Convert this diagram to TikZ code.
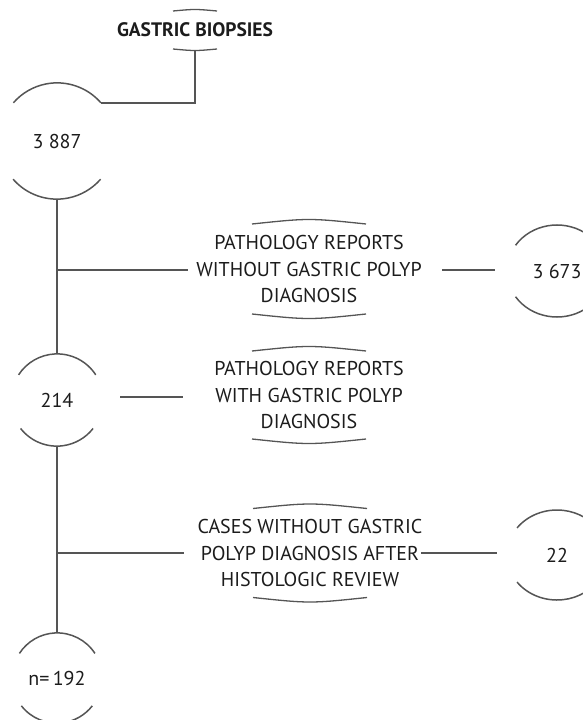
\documentclass[tikz,border=0pt]{standalone}
\usepackage{fontspec}
\setmainfont{PT Sans}
\usetikzlibrary{calc}
\definecolor{linegray}{HTML}{555555}
\definecolor{textgray}{HTML}{1C1C1C}
\tikzset{
  ln/.style={draw=linegray, line width=1.5pt},
  thinarc/.style={draw=linegray, line width=1.3pt},
  txt/.style={text=textgray, font=\fontsize{20}{26.5}\selectfont, align=center, inner sep=0pt},
  num/.style={circle, inner sep=0pt, text=textgray, font=\fontsize{20}{22}\selectfont},
}
\begin{document}
\begin{tikzpicture}[x=1pt,y=1pt]
\useasboundingbox (0,0) rectangle (582,-720);
% title
\node[txt, font=\bfseries\fontsize{19.5}{22}\selectfont, minimum height=40pt] (gb) at (195,-30) {GASTRIC BIOPSIES};
\draw[thinarc] ($(gb.center)+(-22,19)$) .. controls ($(gb.center)+(0,21)$) .. ($(gb.center)+(22,19)$);
\draw[thinarc] ($(gb.center)+(-22,-19)$) .. controls ($(gb.center)+(0,-21)$) .. ($(gb.center)+(22,-19)$);

% circles
\node[num, minimum size=116pt] (c1) at (57,-141) {3 887};
\node[num, minimum size=92pt] (c2) at (57,-400) {214};
\node[num, minimum size=92pt] (c3) at (557,-271) {3 673};
\node[num, minimum size=90pt] (c5) at (557,-555) {22};
\node[num, minimum size=90pt] (c4) at (57,-678) {n=\,192};

\draw[ln] (c1.41) arc[start angle=41, end angle=139, radius=58pt];
\draw[ln] (c1.221) arc[start angle=221, end angle=319, radius=58pt];
\draw[ln] (c2.33) arc[start angle=33, end angle=147, radius=46pt];
\draw[ln] (c2.218) arc[start angle=218, end angle=322, radius=46pt];
\draw[ln] (c4.33) arc[start angle=33, end angle=147, radius=45pt];
\draw[ln] (c4.218) arc[start angle=218, end angle=322, radius=45pt];
\draw[ln] ($(c3.center)+(146:50pt and 46pt)$) arc[start angle=146, end angle=30, x radius=50pt, y radius=46pt];
\draw[ln] ($(c3.center)+(214:50pt and 46pt)$) arc[start angle=214, end angle=330, x radius=50pt, y radius=46pt];
\draw[ln] ($(c5.center)+(143:50pt and 45pt)$) arc[start angle=143, end angle=30, x radius=50pt, y radius=45pt];
\draw[ln] ($(c5.center)+(217:50pt and 45pt)$) arc[start angle=217, end angle=330, x radius=50pt, y radius=45pt];

% text boxes
\node[txt] (t1) at (309,-269) {PATHOLOGY REPORTS\\WITHOUT GASTRIC POLYP\\DIAGNOSIS};
\node[txt] (t2) at (309,-395) {PATHOLOGY REPORTS\\WITH GASTRIC POLYP\\DIAGNOSIS};
\node[txt] (t3) at (310,-553) {CASES WITHOUT GASTRIC\\POLYP DIAGNOSIS AFTER\\HISTOLOGIC REVIEW};
\foreach \t/\dy in {t1/1, t2/0, t3/0.5} {
  \draw[thinarc] ($(\t.center)+(-57,44+\dy)$) .. controls ($(\t.center)+(0,50+\dy)$) .. ($(\t.center)+(57,44+\dy)$);
  \draw[thinarc] ($(\t.center)+(-57,-44-\dy)$) .. controls ($(\t.center)+(0,-50-\dy)$) .. ($(\t.center)+(57,-44-\dy)$);
}

% connectors
\coordinate (e1) at (188,-270);
\coordinate (f1) at (442,-270);
\coordinate (g1) at (495,-270);
\coordinate (e2a) at (120,-397);
\coordinate (e2b) at (183,-397);
\coordinate (e3) at (184,-553);
\coordinate (f3) at (421,-553);
\coordinate (g3) at (497,-553);

\draw[ln] (gb.south) |- (c1.41);
\draw[ln] (c1.south) -- (c2.north);
\draw[ln] (c2.south) -- (c4.north);
\draw[ln] (c1.south |- e1) -- (e1);
\draw[ln] (f1) -- (g1);
\draw[ln] (e2a) -- (e2b);
\draw[ln] (c2.south |- e3) -- (e3);
\draw[ln] (f3) -- (g3);
\end{tikzpicture}
\end{document}
